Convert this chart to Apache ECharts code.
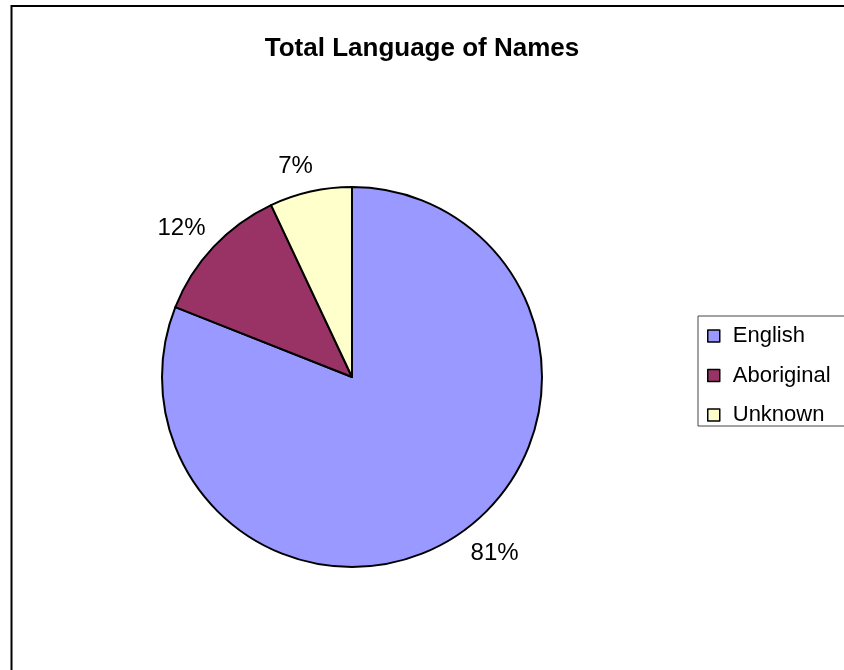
<!DOCTYPE html>
<html>
<head>
<meta charset="utf-8">
<script src="https://cdn.jsdelivr.net/npm/echarts@6/dist/echarts.min.js"></script>
<style>
html,body{margin:0;padding:0;background:#fff;}
#chart{width:844px;height:670px;}
</style>
</head>
<body>
<div id="chart"></div>
<script>
const categories = ['English', 'Aboriginal', 'Unknown'];
const values = [81, 12, 7];
const colors = ['#9999FF', '#993366', '#FFFFCC'];

const chart = echarts.init(document.getElementById('chart'));
const data = categories.map((c, i) => ({ name: c, value: values[i], itemStyle: { color: colors[i] } }));
// small per-label nudges to mimic the spreadsheet's label placement
const labelNudge = [[15, -11], [-5, 7], [-7, 11]];
const labelData = categories.map((c, i) => ({ name: c, value: values[i], label: { offset: labelNudge[i] } }));
const font = '"Liberation Sans", Arial, sans-serif';

chart.setOption({
  animation: false,
  backgroundColor: '#fff',
  graphic: [{
    type: 'rect',
    shape: { x: 11.5, y: 6, width: 1000, height: 1000 },
    style: { fill: 'none', stroke: '#000', lineWidth: 2 },
    silent: true,
    z: 10
  }],
  title: {
    text: 'Total Language of Names',
    left: 'center',
    top: 31,
    textStyle: { fontFamily: font, fontSize: 26, fontWeight: 'bold', color: '#000' }
  },
  legend: {
    orient: 'vertical',
    left: 698,
    top: 316,
    padding: [9, 60, 0, 9],
    itemGap: 17.5,
    itemWidth: 12,
    itemHeight: 12,
    icon: 'rect',
    borderColor: '#444',
    borderWidth: 1,
    data: categories,
    itemStyle: { borderColor: '#000', borderWidth: 1.5 },
    textStyle: { fontFamily: font, fontSize: 22, color: '#000', padding: [0, 0, 0, 8] }
  },
  series: [{
    type: 'pie',
    center: [352, 377],
    radius: 190,
    startAngle: 90,
    clockwise: true,
    data: data,
    itemStyle: { borderColor: '#000', borderWidth: 2 },
    label: { show: false },
    labelLine: { show: false },
    emphasis: { disabled: true }
  }, {
    type: 'pie',
    center: [352, 377],
    radius: [190, 258],
    startAngle: 90,
    clockwise: true,
    silent: true,
    data: labelData,
    itemStyle: { color: 'rgba(0,0,0,0)', borderWidth: 0 },
    label: {
      show: true,
      position: 'inside',
      formatter: p => p.value + '%',
      fontFamily: font,
      fontSize: 24,
      color: '#000'
    },
    labelLine: { show: false },
    emphasis: { disabled: true }
  }]
});
</script>
</body>
</html>
